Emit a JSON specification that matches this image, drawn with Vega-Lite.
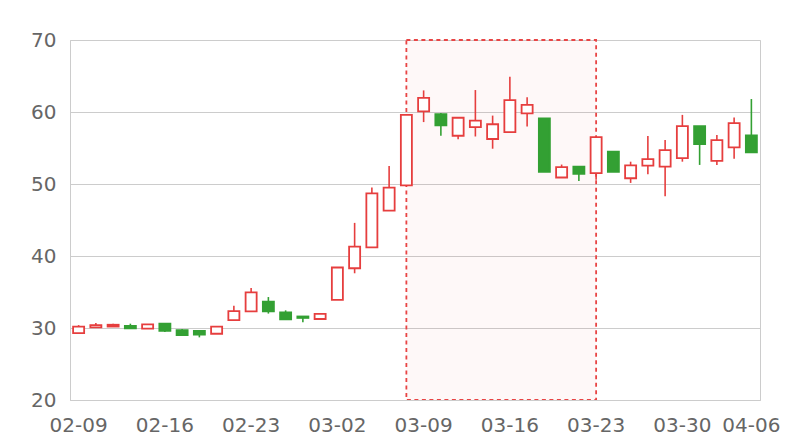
{
  "$schema": "https://vega.github.io/schema/vega-lite/v6.json",
  "autosize": "none",
  "width": 690,
  "height": 360,
  "padding": {"left": 70, "top": 40, "right": 40, "bottom": 40},
  "config": {
    "font": "DejaVu Sans",
    "view": {"stroke": "#cccccc", "strokeWidth": 1},
    "axis": {"labelFont": "DejaVu Sans", "labelFontSize": 20, "labelColor": "#666666", "ticks": false, "domainColor": "#cccccc", "gridColor": "#cccccc", "title": null}
  },
  "data": {"values": [
    {"date": "02-09", "open": 29.3, "close": 30.2, "high": 30.4, "low": 29.2},
    {"date": "02-10", "open": 30.1, "close": 30.4, "high": 30.7, "low": 30.0},
    {"date": "02-11", "open": 30.2, "close": 30.45, "high": 30.6, "low": 30.2},
    {"date": "02-12", "open": 30.3, "close": 29.95, "high": 30.6, "low": 29.9},
    {"date": "02-13", "open": 29.9, "close": 30.5, "high": 30.55, "low": 29.9},
    {"date": "02-16", "open": 30.6, "close": 29.6, "high": 30.7, "low": 29.45},
    {"date": "02-17", "open": 29.7, "close": 29.0, "high": 29.85, "low": 29.0},
    {"date": "02-18", "open": 29.6, "close": 29.1, "high": 29.7, "low": 28.7},
    {"date": "02-19", "open": 29.2, "close": 30.2, "high": 30.2, "low": 29.2},
    {"date": "02-20", "open": 31.1, "close": 32.35, "high": 33.1, "low": 31.1},
    {"date": "02-23", "open": 32.3, "close": 34.95, "high": 35.55, "low": 32.3},
    {"date": "02-24", "open": 33.65, "close": 32.3, "high": 34.3, "low": 32.0},
    {"date": "02-25", "open": 32.15, "close": 31.2, "high": 32.45, "low": 31.2},
    {"date": "02-26", "open": 31.6, "close": 31.4, "high": 31.65, "low": 30.8},
    {"date": "02-27", "open": 31.25, "close": 31.95, "high": 31.95, "low": 31.2},
    {"date": "03-02", "open": 33.9, "close": 38.4, "high": 38.4, "low": 33.9},
    {"date": "03-03", "open": 38.3, "close": 41.3, "high": 44.6, "low": 37.6},
    {"date": "03-04", "open": 41.2, "close": 48.7, "high": 49.5, "low": 41.2},
    {"date": "03-05", "open": 46.3, "close": 49.5, "high": 52.5, "low": 46.3},
    {"date": "03-06", "open": 49.8, "close": 59.6, "high": 59.6, "low": 49.8},
    {"date": "03-09", "open": 60.1, "close": 61.95, "high": 63.0, "low": 58.6},
    {"date": "03-10", "open": 59.7, "close": 58.15, "high": 59.85, "low": 56.7},
    {"date": "03-11", "open": 56.7, "close": 59.2, "high": 59.3, "low": 56.2},
    {"date": "03-12", "open": 57.9, "close": 58.8, "high": 63.05, "low": 56.6},
    {"date": "03-13", "open": 56.25, "close": 58.3, "high": 59.5, "low": 54.9},
    {"date": "03-16", "open": 57.2, "close": 61.65, "high": 64.9, "low": 57.2},
    {"date": "03-17", "open": 59.8, "close": 61.0, "high": 62.05, "low": 58.0},
    {"date": "03-18", "open": 59.1, "close": 51.7, "high": 59.1, "low": 51.7},
    {"date": "03-19", "open": 50.9, "close": 52.35, "high": 52.7, "low": 50.9},
    {"date": "03-20", "open": 52.4, "close": 51.4, "high": 52.45, "low": 50.4},
    {"date": "03-23", "open": 51.5, "close": 56.5, "high": 56.6, "low": 50.6},
    {"date": "03-24", "open": 54.5, "close": 51.7, "high": 54.5, "low": 51.7},
    {"date": "03-25", "open": 50.8, "close": 52.6, "high": 53.1, "low": 50.15},
    {"date": "03-26", "open": 52.55, "close": 53.45, "high": 56.65, "low": 51.35},
    {"date": "03-27", "open": 52.4, "close": 54.7, "high": 56.1, "low": 48.3},
    {"date": "03-30", "open": 53.6, "close": 58.05, "high": 59.6, "low": 53.1},
    {"date": "03-31", "open": 58.05, "close": 55.55, "high": 58.05, "low": 52.65},
    {"date": "04-01", "open": 53.2, "close": 56.1, "high": 56.8, "low": 52.65},
    {"date": "04-02", "open": 55.1, "close": 58.45, "high": 59.25, "low": 53.5},
    {"date": "04-06", "open": 56.75, "close": 54.4, "high": 61.8, "low": 54.4}
  ]},
  "encoding": {
    "x": {
      "field": "date", "type": "ordinal", "sort": "ascending",
      "scale": {"paddingInner": 0.36, "paddingOuter": 0.18},
      "axis": {"labelAngle": 0, "labelPadding": 15, "values": ["02-09", "02-16", "02-23", "03-02", "03-09", "03-16", "03-23", "03-30", "04-06"], "domain": true}
    }
  },
  "layer": [
    {
      "data": {"values": [{"start": "03-06", "end": "03-23"}]},
      "mark": {"type": "rect", "fill": "#e84040", "fillOpacity": 0.035, "stroke": "#e84545", "strokeWidth": 1.8, "strokeDash": [4, 3.5]},
      "encoding": {
        "x": {"field": "start", "type": "ordinal", "sort": "ascending", "bandPosition": 0.5},
        "x2": {"field": "end"},
        "y": {"datum": 20, "type": "quantitative"},
        "y2": {"datum": 70}
      }
    },
    {
      "mark": {"type": "rule", "strokeWidth": 1.6},
      "encoding": {
        "y": {"field": "low", "type": "quantitative", "scale": {"domain": [20, 70], "nice": false, "zero": false}, "axis": {"values": [20, 30, 40, 50, 60, 70], "labelPadding": 14, "domain": true, "grid": true}},
        "y2": {"field": "high"},
        "color": {"condition": {"test": "datum.close >= datum.open", "value": "#e63e3e"}, "value": "#33a033"}
      }
    },
    {
      "mark": {"type": "bar", "strokeWidth": 1.8},
      "encoding": {
        "y": {"field": "open", "type": "quantitative"},
        "y2": {"field": "close"},
        "fill": {"condition": {"test": "datum.close >= datum.open", "value": "#ffffff"}, "value": "#33a033"},
        "stroke": {"condition": {"test": "datum.close >= datum.open", "value": "#e63e3e"}, "value": "#33a033"}
      }
    }
  ]
}
